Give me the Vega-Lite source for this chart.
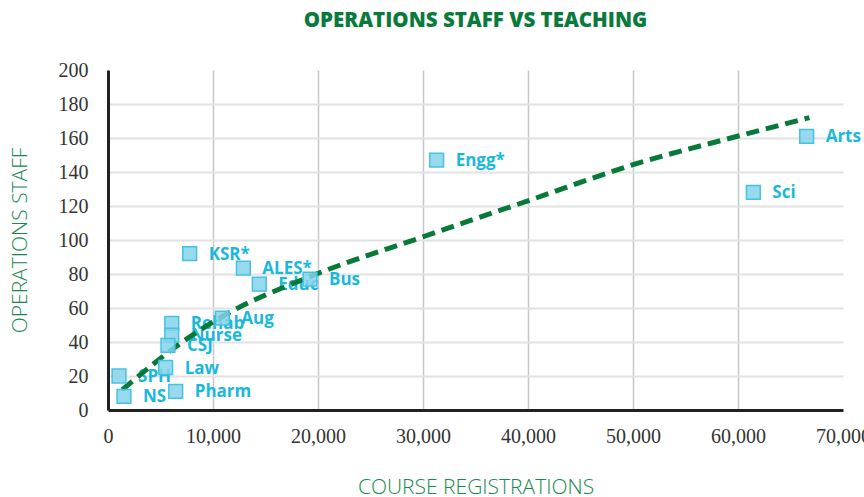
{
  "$schema": "https://vega.github.io/schema/vega-lite/v6.json",
  "width": 735,
  "height": 340,
  "autosize": {"type": "none"},
  "padding": {"left": 108, "top": 70, "right": 21, "bottom": 87},
  "background": "white",
  "title": {
    "text": "OPERATIONS STAFF VS TEACHING",
    "font": "Open Sans",
    "fontSize": 20.5,
    "fontWeight": 800,
    "color": "#0a7a3c",
    "anchor": "middle",
    "offset": 29
  },
  "datasets": {
    "faculties": [
      {"faculty": "Arts", "registrations": 66540, "staff": 161},
      {"faculty": "Sci", "registrations": 61460, "staff": 128},
      {"faculty": "Engg*", "registrations": 31300, "staff": 147},
      {"faculty": "KSR*", "registrations": 7780, "staff": 92},
      {"faculty": "ALES*", "registrations": 12890, "staff": 83.5},
      {"faculty": "Educ", "registrations": 14410, "staff": 74},
      {"faculty": "Bus", "registrations": 19240, "staff": 77},
      {"faculty": "Aug", "registrations": 10890, "staff": 54},
      {"faculty": "Rehab", "registrations": 6070, "staff": 51},
      {"faculty": "Nurse", "registrations": 6070, "staff": 44},
      {"faculty": "CSJ", "registrations": 5710, "staff": 38},
      {"faculty": "Law", "registrations": 5490, "staff": 25},
      {"faculty": "SPH", "registrations": 1050, "staff": 20},
      {"faculty": "NS", "registrations": 1520, "staff": 8},
      {"faculty": "Pharm", "registrations": 6450, "staff": 11}
    ],
    "trend": [
      {"registrations": 1360, "staff": 11.9},
      {"registrations": 7080, "staff": 40},
      {"registrations": 10890, "staff": 55},
      {"registrations": 19140, "staff": 78.2},
      {"registrations": 30160, "staff": 102.2},
      {"registrations": 40160, "staff": 123.4},
      {"registrations": 50160, "staff": 144.6},
      {"registrations": 60120, "staff": 161.3},
      {"registrations": 66800, "staff": 172}
    ]
  },
  "encoding": {
    "x": {
      "field": "registrations",
      "type": "quantitative",
      "scale": {"domain": [0, 70000], "nice": false},
      "axis": {
        "title": "COURSE REGISTRATIONS",
        "values": [0, 10000, 20000, 30000, 40000, 50000, 60000, 70000],
        "format": ",.0f",
        "labelFont": "Liberation Sans Narrow",
        "labelFontSize": 20,
        "labelColor": "#333333",
        "labelPadding": 16,
        "labelFlush": false,
        "ticks": false,
        "domainColor": "#222222",
        "domainWidth": 3,
        "grid": true,
        "gridColor": "#c8c8c8",
        "gridWidth": 1.5,
        "gridOpacity": {"condition": {"test": "datum.value >= 70000 || datum.value <= 0", "value": 0}, "value": 1},
        "titleFont": "Open Sans",
        "titleFontWeight": 300,
        "titleFontSize": 21,
        "titleColor": "#17894a",
        "titleBaseline": "middle",
        "titleY": 77
      }
    },
    "y": {
      "field": "staff",
      "type": "quantitative",
      "scale": {"domain": [0, 200], "nice": false},
      "axis": {
        "title": "OPERATIONS STAFF",
        "values": [0, 20, 40, 60, 80, 100, 120, 140, 160, 180, 200],
        "labelFont": "Liberation Sans Narrow",
        "labelFontSize": 20,
        "labelColor": "#333333",
        "labelPadding": 20,
        "labelFlush": false,
        "ticks": false,
        "domainColor": "#222222",
        "domainWidth": 3,
        "grid": true,
        "gridColor": "#e2e2e2",
        "gridWidth": 2,
        "gridOpacity": {"condition": {"test": "datum.value >= 200 || datum.value <= 0", "value": 0}, "value": 1},
        "titleFont": "Open Sans",
        "titleFontWeight": 300,
        "titleFontSize": 21,
        "titleColor": "#17894a",
        "titleAngle": -90,
        "titleBaseline": "middle",
        "titleAlign": "center",
        "titleX": -88,
        "titleY": 170
      }
    }
  },
  "layer": [
    {
      "data": {"name": "faculties"},
      "mark": {
        "type": "text",
        "align": "left",
        "baseline": "middle",
        "dx": 19,
        "dy": 1,
        "font": "Open Sans",
        "fontSize": 17,
        "fontWeight": "bold",
        "color": "#1ab8dc"
      },
      "encoding": {"text": {"field": "faculty"}}
    },
    {
      "data": {"name": "trend"},
      "mark": {
        "type": "line",
        "interpolate": "monotone",
        "color": "#077a3a",
        "strokeWidth": 5,
        "strokeDash": [13, 7]
      },
      "encoding": {}
    },
    {
      "data": {"name": "faculties"},
      "mark": {
        "type": "point",
        "shape": "square",
        "size": 190,
        "filled": true,
        "fill": "#86d4ea",
        "fillOpacity": 0.85,
        "stroke": "#45c2e2",
        "strokeWidth": 1.5
      },
      "encoding": {}
    }
  ],
  "config": {
    "view": {"stroke": null}
  }
}
